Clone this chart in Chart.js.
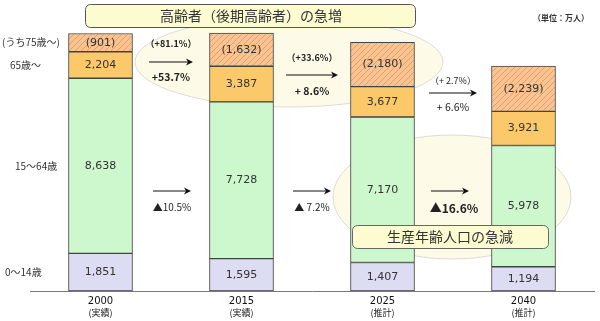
<!DOCTYPE html>
<html>
<head>
<meta charset="utf-8">
<script src="https://cdn.jsdelivr.net/npm/chart.js@4"></script>
<style>
  html, body { margin: 0; padding: 0; background: #fff; }
  #wrap { width: 600px; height: 321px; position: relative; }
</style>
</head>
<body>
<div id="wrap"><canvas id="chart" width="600" height="321"></canvas></div>
<script>
// values in 万人
const years      = ['2000', '2015', '2025', '2040'];
const yearNotes  = ['(実績)', '(実績)', '(推計)', '(推計)'];
const age0to14   = [1851, 1595, 1407, 1194];
const age15to64  = [8638, 7728, 7170, 5978];
const age65plus  = [2204, 3387, 3677, 3921];
const age75plus  = [901, 1632, 2180, 2239];

const elderChange     = ['+53.7%', '+ 8.6%', '+ 6.6%'];
const lateElderChange = ['（+81.1%）', '（+33.6%）', '（+ 2.7%）'];
const workingChange   = ['▲10.5%', '▲ 7.2%', '▲16.6%'];

const groupLabels = ['0～14歳', '15～64歳', '65歳～', '(うち75歳～)'];

// 65-74 band = 65+ minus the 75+ part drawn on top of it
const age65to74 = age65plus.map((v, i) => v - age75plus[i]);

const JP = '"Noto Sans CJK JP", "Noto Sans", sans-serif';
const NUM = '"DejaVu Sans", sans-serif';

function hatchPattern(ctx) {
  const c = document.createElement('canvas');
  c.width = 6; c.height = 6;
  const g = c.getContext('2d');
  g.fillStyle = '#f8c494';
  g.fillRect(0, 0, 6, 6);
  g.strokeStyle = '#ef9c5a';
  g.lineWidth = 1;
  g.beginPath();
  g.moveTo(0, 6); g.lineTo(6, 0);
  g.moveTo(-3, 3); g.lineTo(3, -3);
  g.moveTo(3, 9); g.lineTo(9, 3);
  g.stroke();
  return ctx.createPattern(c, 'repeat');
}

function roundRect(ctx, x, y, w, h, r) {
  ctx.beginPath();
  ctx.moveTo(x + r, y);
  ctx.arcTo(x + w, y, x + w, y + h, r);
  ctx.arcTo(x + w, y + h, x, y + h, r);
  ctx.arcTo(x, y + h, x, y, r);
  ctx.arcTo(x, y, x + w, y, r);
  ctx.closePath();
}

function drawArrow(ctx, x1, x2, y) {
  ctx.save();
  ctx.strokeStyle = '#111';
  ctx.fillStyle = '#111';
  ctx.lineWidth = 1.2;
  ctx.beginPath();
  ctx.moveTo(x1, y);
  ctx.lineTo(x2 - 3, y);
  ctx.stroke();
  ctx.beginPath();
  ctx.moveTo(x2, y);
  ctx.lineTo(x2 - 7, y - 3.5);
  ctx.lineTo(x2 - 5, y);
  ctx.lineTo(x2 - 7, y + 3.5);
  ctx.closePath();
  ctx.fill();
  ctx.restore();
}

function text(ctx, s, x, y, font, align = 'center', color = '#222') {
  ctx.font = font;
  ctx.fillStyle = color;
  ctx.textAlign = align;
  ctx.textBaseline = 'middle';
  ctx.fillText(s, x, y);
}

const backdrop = {
  id: 'backdrop',
  beforeDatasetsDraw(chart) {
    const ctx = chart.ctx;
    ctx.save();
    ctx.fillStyle = '#fdfbe8';
    ctx.strokeStyle = '#dcdcd4';
    ctx.lineWidth = 1;
    ctx.beginPath();
    ctx.ellipse(289, 62, 154, 45, 0, 0, Math.PI * 2);
    ctx.fill(); ctx.stroke();
    ctx.beginPath();
    ctx.ellipse(452, 197, 119, 62, 0, 0, Math.PI * 2);
    ctx.fill(); ctx.stroke();
    ctx.restore();
  }
};

const overlay = {
  id: 'overlay',
  afterDatasetsDraw(chart) {
    const ctx = chart.ctx;
    const xs = chart.scales.x;
    ctx.save();

    // values inside each segment
    const segText = [
      age0to14.map(v => v.toLocaleString('en-US')),
      age15to64.map(v => v.toLocaleString('en-US')),
      age65plus.map(v => v.toLocaleString('en-US')),
      age75plus.map(v => '(' + v.toLocaleString('en-US') + ')')
    ];
    segText.forEach((labels, d) => {
      chart.getDatasetMeta(d).data.forEach((bar, i) => {
        text(ctx, labels[i], bar.x, (bar.y + bar.base) / 2, '11px ' + NUM, 'center', '#333');
      });
    });

    // group names on the left, level with the first bar's segments
    const leftX = [5, 15, 10, 2];
    groupLabels.forEach((s, d) => {
      const bar = chart.getDatasetMeta(d).data[0];
      text(ctx, s, leftX[d], (bar.y + bar.base) / 2, '10px ' + JP, 'left', '#333');
    });

    // year notes under the tick labels
    yearNotes.forEach((s, i) => {
      text(ctx, s, xs.getPixelForValue(i), 313, '9px ' + JP, 'center', '#222');
    });

    // arrows between bars
    const topY = [62, 75, 93];
    const topHalf = [22, 26, 24];
    const topOff = [[-18, 15], [-17, 16], [-12, 14]];
    for (let i = 0; i < 3; i++) {
      const mid = (xs.getPixelForValue(i) + xs.getPixelForValue(i + 1)) / 2;
      drawArrow(ctx, mid - topHalf[i], mid + topHalf[i], topY[i]);
      text(ctx, lateElderChange[i], mid, topY[i] + topOff[i][0],
        (i < 2 ? 'bold ' : '') + '9px ' + JP);
      text(ctx, elderChange[i], mid, topY[i] + topOff[i][1],
        (i < 2 ? 'bold ' : '') + '10.5px ' + JP);

      const lowMid = mid + [1, 0, -3][i];
      drawArrow(ctx, lowMid - 19, lowMid + 19, 191);
      text(ctx, workingChange[i], lowMid + (i === 2 ? 4 : 0), i === 2 ? 208 : 207,
        i === 2 ? 'bold 12px ' + JP : '10px ' + JP);
    }

    // callout boxes
    ctx.fillStyle = '#fdfbd0';
    ctx.strokeStyle = '#555';
    ctx.lineWidth = 1;
    roundRect(ctx, 85.5, 4.5, 330, 23, 5);
    ctx.fill(); ctx.stroke();
    text(ctx, '高齢者（後期高齢者）の急増', 251, 16, '14px ' + JP, 'center', '#333');

    ctx.fillStyle = '#fdfbd0';
    ctx.strokeStyle = '#666';
    roundRect(ctx, 352.5, 225.5, 196, 23, 5);
    ctx.fill(); ctx.stroke();
    text(ctx, '生産年齢人口の急減', 450, 237, '14px ' + JP, 'center', '#333');

    text(ctx, '（単位：万人）', 561, 18, 'bold 8px ' + JP, 'center', '#333');

    ctx.restore();
  }
};

const ctx = document.getElementById('chart').getContext('2d');
const edge = '#444';

new Chart(ctx, {
  type: 'bar',
  data: {
    labels: years,
    datasets: [
      { label: '0～14歳',   data: age0to14,  backgroundColor: '#dcdcf2' },
      { label: '15～64歳',  data: age15to64, backgroundColor: '#cdf7cd' },
      { label: '65～74歳',  data: age65to74, backgroundColor: '#fbc86a' },
      { label: '75歳～',    data: age75plus, backgroundColor: hatchPattern(ctx) }
    ].map(ds => ({ ...ds, borderColor: edge, borderWidth: 1, barThickness: 64, borderSkipped: false }))
  },
  options: {
    responsive: false,
    animation: false,
    layout: { padding: { top: 7, left: 30, right: 6, bottom: 0 } },
    plugins: { legend: { display: false }, tooltip: { enabled: false } },
    scales: {
      x: {
        stacked: true,
        grid: { display: false, drawTicks: false },
        border: { display: true, color: '#777', width: 1 },
        ticks: { color: '#111', font: { family: 'DejaVu Sans', size: 10 }, padding: 4 },
        afterFit(scale) { scale.height = 30; }
      },
      y: {
        stacked: true,
        display: false,
        min: 0,
        max: 14000
      }
    }
  },
  plugins: [backdrop, overlay]
});
</script>
</body>
</html>
